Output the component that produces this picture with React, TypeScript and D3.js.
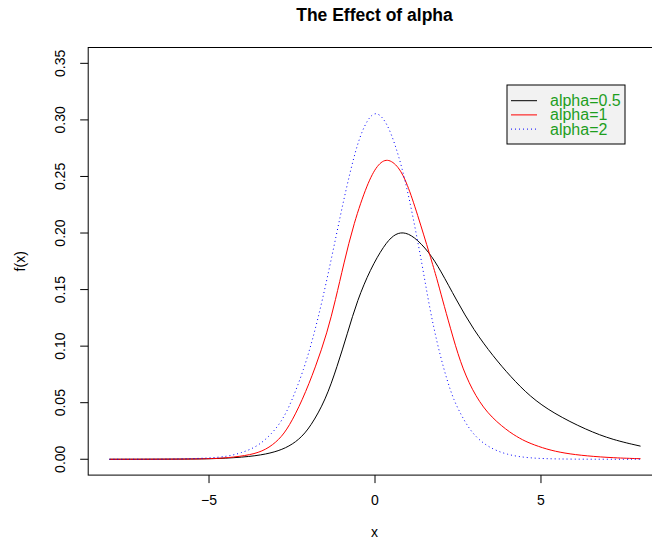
import React from "react";
import * as d3 from "d3";

const W = 652;
const H = 542;

const seriesNames = ["alpha=0.5", "alpha=1", "alpha=2"];
const seriesColors = ["#000000", "#ff0000", "#0000ff"];
const seriesDash = ["", "", "1,3"];

// alpha = 0.5
const blackX = [-8, -6, -4.74, -3.74, -3.14, -2.69, -2.29, -1.94, -1.49, -1.14, -0.83, -0.53, -0.14, 0.27, 0.56, 0.84, 1.17, 1.62, 1.97, 2.45, 2.97, 3.57, 4.07, 4.67, 5.37, 6.37, 7.17, 8];
const blackY = [0, 0.00005, 0.0004, 0.0023, 0.0053, 0.0097, 0.0171, 0.0288, 0.0524, 0.0819, 0.1114, 0.1408, 0.168, 0.189, 0.1985, 0.2012, 0.1972, 0.1835, 0.1673, 0.1408, 0.1143, 0.0907, 0.0735, 0.0553, 0.0407, 0.0259, 0.0171, 0.0116];

// alpha = 1
const redX = [-8, -6, -5, -4.44, -3.74, -3.29, -2.89, -2.59, -2.19, -1.79, -1.44, -1.19, -0.94, -0.64, -0.23, 0.07, 0.37, 0.71, 0.97, 1.27, 1.67, 1.87, 2.02, 2.27, 2.57, 2.92, 3.37, 3.97, 4.37, 4.67, 5.17, 5.7, 6.37, 7.2, 8];
const redY = [0, 0.0001, 0.0004, 0.0012, 0.0038, 0.0082, 0.0171, 0.0288, 0.052, 0.0815, 0.112, 0.1408, 0.173, 0.2086, 0.2439, 0.2605, 0.2665, 0.259, 0.2439, 0.2174, 0.179, 0.159, 0.1425, 0.116, 0.0855, 0.0613, 0.0407, 0.0255, 0.0182, 0.014, 0.0088, 0.0053, 0.0029, 0.0012, 0.0005];

// alpha = 2
const blueX = [-8, -7, -6, -5, -4.44, -4.04, -3.54, -3.09, -2.79, -2.54, -2.14, -1.84, -1.59, -1.3, -1.04, -0.83, -0.53, -0.23, 0.05, 0.37, 0.62, 0.82, 1.02, 1.22, 1.42, 1.59, 1.77, 1.97, 2.17, 2.37, 2.62, 2.92, 3.37, 3.97, 4.67, 5.5, 6.5, 8];
const blueY = [0, 0.00001, 0.0001, 0.001, 0.0025, 0.0055, 0.0111, 0.023, 0.0348, 0.049, 0.0795, 0.11, 0.14, 0.179, 0.216, 0.244, 0.28, 0.301, 0.3085, 0.297, 0.277, 0.257, 0.232, 0.203, 0.172, 0.143, 0.116, 0.091, 0.07, 0.0524, 0.0377, 0.023, 0.0111, 0.0038, 0.0009, 0.0002, 0.00003, 0];

const xTicks = [-5, 0, 5];
const yTicks = [0, 0.05, 0.1, 0.15, 0.2, 0.25, 0.3, 0.35];

const xs = [blackX, redX, blueX];
const ys = [blackY, redY, blueY];

export default function App() {
  const x = d3.scaleLinear().domain([-8.64, 8.64]).range([88.2, 661.8]);
  const y = d3.scaleLinear().domain([-0.014, 0.364]).range([475.1, 47.5]);
  const line = d3
    .line<[number, number]>()
    .x((d) => x(d[0]))
    .y((d) => y(d[1]))
    .curve(d3.curveBasis);

  const font = "'Liberation Sans', Arial, Helvetica, sans-serif";
  const [x0, x1] = x.range();
  const [yb, yt] = y.range();

  return (
    <svg
      width={W}
      height={H}
      style={{ position: "absolute", left: 0, top: 0, background: "#fff" }}
      fontFamily={font}
    >
      <rect x={0} y={0} width={W} height={H} fill="#fff" />
      <text x={374.5} y={21} textAnchor="middle" fontWeight="bold" fontSize={17.5}>
        The Effect of alpha
      </text>

      {xs.map((xv, i) => (
        <path
          key={i}
          d={line(xv.map((v, j) => [v, ys[i][j]] as [number, number])) || ""}
          fill="none"
          stroke={seriesColors[i]}
          strokeWidth={1}
          strokeDasharray={seriesDash[i] || undefined}
        />
      ))}

      <rect x={x0} y={yt} width={x1 - x0} height={yb - yt} fill="none" stroke="#000" strokeWidth={1} />

      {xTicks.map((t) => (
        <g key={t}>
          <line x1={x(t)} x2={x(t)} y1={yb} y2={yb + 8} stroke="#000" />
          <text x={x(t)} y={504.5} textAnchor="middle" fontSize={14}>
            {t < 0 ? "\u2212" + Math.abs(t) : String(t)}
          </text>
        </g>
      ))}
      {yTicks.map((t) => (
        <g key={t}>
          <line x1={x0 - 8} x2={x0} y1={y(t)} y2={y(t)} stroke="#000" />
          <text
            transform={`translate(65,${y(t)}) rotate(-90)`}
            textAnchor="middle"
            fontSize={14}
          >
            {t.toFixed(2)}
          </text>
        </g>
      ))}

      <text x={374.5} y={537} textAnchor="middle" fontSize={14}>
        x
      </text>
      <text transform={`translate(25,${(yt + yb) / 2}) rotate(-90)`} textAnchor="middle" fontSize={14}>
        f(x)
      </text>

      <g>
        <rect x={507} y={85} width={118} height={59} fill="#f2f2f2" stroke="#000" strokeWidth={1} />
        {seriesNames.map((n, i) => (
          <g key={n}>
            <line
              x1={511}
              x2={537}
              y1={100.7 + i * 14.2}
              y2={100.7 + i * 14.2}
              stroke={seriesColors[i]}
              strokeDasharray={seriesDash[i] || undefined}
            />
            <text x={550} y={100.7 + i * 14.2 + 5.5} fontSize={16} fill="#1e9e1e">
              {n}
            </text>
          </g>
        ))}
      </g>
    </svg>
  );
}
